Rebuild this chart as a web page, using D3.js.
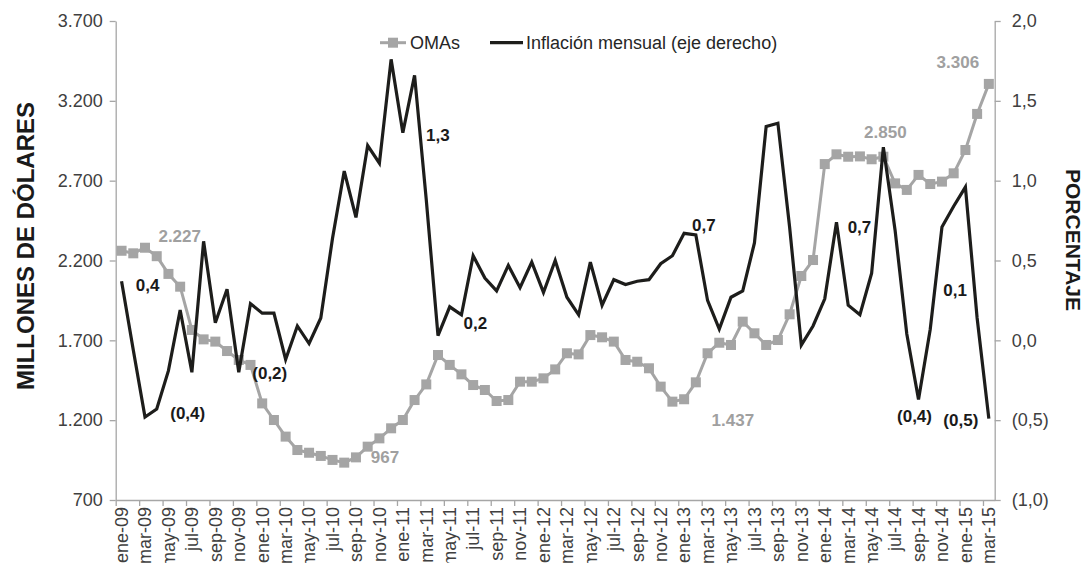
<!DOCTYPE html>
<html>
<head>
<meta charset="utf-8">
<script src="https://cdn.jsdelivr.net/npm/d3@7"></script>
<style>
  html, body { margin: 0; padding: 0; background: #fff; }
  svg { display: block; }
  text { font-family: "Liberation Sans", Arial, sans-serif; }
</style>
</head>
<body>
<svg id="chart" width="1087" height="563"></svg>
<script>
// Monthly categories, ene-09 .. mar-15
const months = ["ene","feb","mar","abr","may","jun","jul","ago","sep","oct","nov","dic"];
const categories = [];
for (let y = 9; y <= 15; y++) {
  for (let m = 0; m < 12; m++) {
    if (y === 15 && m > 2) break;
    categories.push(months[m] + "-" + String(y).padStart(2, "0"));
  }
}

// Open market operations, millions of dollars (left axis)
const omas = [
  2261, 2245, 2280, 2227, 2116, 2036, 1765, 1706, 1692, 1633, 1577, 1546,
  1305, 1201, 1097, 1013,  996,  976,  951,  934,  967, 1034, 1086, 1149,
  1201, 1326, 1424, 1608, 1546, 1487, 1420, 1389, 1320, 1326, 1441, 1441,
  1462, 1518, 1619, 1612, 1733, 1719, 1692, 1577, 1566, 1525, 1410, 1316,
  1331, 1437, 1619, 1685, 1671, 1817, 1744, 1671, 1702, 1863, 2103, 2203,
  2804, 2865, 2850, 2852, 2834, 2850, 2683, 2642, 2736, 2679, 2694, 2746,
  2892, 3118, 3306
];

// Monthly inflation, percent (right axis)
const inflacion = [
   0.37, -0.06, -0.48, -0.43, -0.19,  0.19, -0.20,  0.62,  0.11,  0.32, -0.20,  0.23,
   0.17,  0.17, -0.12,  0.09, -0.02,  0.14,  0.64,  1.06,  0.77,  1.22,  1.11,  1.76,
   1.30,  1.66,  0.88,  0.03,  0.21,  0.16,  0.53,  0.39,  0.31,  0.47,  0.33,  0.49,
   0.30,  0.50,  0.27,  0.16,  0.49,  0.22,  0.38,  0.35,  0.37,  0.38,  0.48,  0.53,
   0.67,  0.66,  0.25,  0.07,  0.27,  0.31,  0.61,  1.34,  1.36,  0.71, -0.03,  0.09,
   0.26,  0.74,  0.22,  0.16,  0.42,  1.21,  0.69,  0.04, -0.37,  0.07,  0.71,  0.84,
   0.96,  0.14, -0.49
];

const leftTicks = [700, 1200, 1700, 2200, 2700, 3200, 3700];
const rightTicks = [-1.0, -0.5, 0.0, 0.5, 1.0, 1.5, 2.0];

// Highlighted OMA values (index into categories)
const omaLabelIdx = [3, 20, 49, 65, 74];
// Highlighted inflation values
const inflLabelIdx = [0, 3, 10, 24, 29, 49, 61, 68, 73, 74];

// Label placement (offset from the point)
const omaLabelOffset = { 3: [23, -14], 20: [29, 6], 49: [37, 44], 65: [2, -19], 74: [-31, -16] };
const inflLabelOffset = {
  0: [26, 10], 3: [31, 10], 10: [31, 7], 24: [35, 8], 29: [14, 14],
  49: [8, -4], 61: [23, 11], 68: [-4, 23], 73: [-22, -22], 74: [-28, 7]
};

const locale = d3.formatLocale({ decimal: ",", thousands: ".", grouping: [3], currency: ["", ""] });
const fmtThousands = locale.format(",.0f");
const fmtOne = locale.format(".1f");
const fmtPct = v => (v < 0 ? "(" + fmtOne(-v) + ")" : fmtOne(v));

const svg = d3.select("#chart");
const plot = { left: 115.7, right: 994.7, top: 21, bottom: 500 };

const x = d3.scaleBand().domain(categories).range([plot.left, plot.right]).padding(0);
const xEdge = d3.scaleLinear().domain([0, categories.length]).range([plot.left, plot.right]);
const yL = d3.scaleLinear().domain([700, 3700]).range([plot.bottom, plot.top]);
const yR = d3.scaleLinear().domain([-1.0, 2.0]).range([plot.bottom, plot.top]);
const cx = c => x(c) + x.bandwidth() / 2;

const axisColor = "#a6a6a6";
const tickTextColor = "#404040";
const grey = "#a5a5a5";
const black = "#1d1d1b";

// Left axis
const gL = svg.append("g").attr("transform", `translate(${plot.left},0)`)
  .call(d3.axisLeft(yL).tickValues(leftTicks).tickFormat(fmtThousands).tickSize(6).tickSizeOuter(0).tickPadding(7));
// Right axis
const gR = svg.append("g").attr("transform", `translate(${plot.right},0)`)
  .call(d3.axisRight(yR).tickValues(rightTicks).tickFormat(fmtPct).tickSize(6).tickSizeOuter(0).tickPadding(11));
// Bottom axis: tick marks on category boundaries every two months
const gB = svg.append("g").attr("transform", `translate(0,${plot.bottom})`)
  .call(d3.axisBottom(xEdge).tickValues(d3.range(0, categories.length, 2)).tickFormat("").tickSize(6).tickSizeOuter(0));
// Bottom axis labels centred on every other month
const gBL = svg.append("g").attr("transform", `translate(0,${plot.bottom})`)
  .call(d3.axisBottom(x).tickValues(categories.filter((d, i) => i % 2 === 0)).tickSize(0).tickPadding(0));
gBL.select(".domain").remove();
gBL.selectAll("text")
  .attr("transform", "rotate(-90)")
  .attr("text-anchor", "end")
  .attr("x", -7).attr("y", 0).attr("dy", "0.35em");

[gL, gR, gB].forEach(g => {
  g.select(".domain").attr("stroke", axisColor).attr("stroke-width", 1.3);
  g.selectAll(".tick line").attr("stroke", axisColor).attr("stroke-width", 1.3);
});
[gL, gR, gBL].forEach(g => {
  g.selectAll("text").attr("fill", tickTextColor).style("font-size", "18px")
    .style("font-family", "'Liberation Sans', Arial, sans-serif");
});

// Axis titles
svg.append("text")
  .attr("transform", `translate(34,246) rotate(-90)`)
  .attr("text-anchor", "middle")
  .style("font-size", "24px").style("font-weight", "bold").attr("fill", "#1a1a1a")
  .text("MILLONES DE DÓLARES");
svg.append("text")
  .attr("transform", `translate(1066,240) rotate(90)`)
  .attr("text-anchor", "middle")
  .style("font-size", "21px").style("font-weight", "bold").attr("fill", "#1a1a1a")
  .text("PORCENTAJE");

// OMAs series
const lineL = d3.line().x((d, i) => cx(categories[i])).y(d => yL(d));
svg.append("path").datum(omas)
  .attr("d", lineL).attr("fill", "none").attr("stroke", grey).attr("stroke-width", 3)
  .attr("stroke-linejoin", "round");
const mk = 10;
svg.append("g").selectAll("rect").data(omas).join("rect")
  .attr("x", (d, i) => cx(categories[i]) - mk / 2)
  .attr("y", d => yL(d) - mk / 2)
  .attr("width", mk).attr("height", mk).attr("fill", grey);

// Inflation series
const lineR = d3.line().x((d, i) => cx(categories[i])).y(d => yR(d));
svg.append("path").datum(inflacion)
  .attr("d", lineR).attr("fill", "none").attr("stroke", black).attr("stroke-width", 3.2)
  .attr("stroke-linejoin", "miter");

// Value labels
svg.append("g").selectAll("text").data(omaLabelIdx).join("text")
  .attr("x", i => cx(categories[i]) + omaLabelOffset[i][0])
  .attr("y", i => yL(omas[i]) + omaLabelOffset[i][1])
  .attr("text-anchor", "middle")
  .style("font-size", "17px").style("font-weight", "bold").attr("fill", "#a0a0a0")
  .text(i => fmtThousands(omas[i]));
svg.append("g").selectAll("text").data(inflLabelIdx).join("text")
  .attr("x", i => cx(categories[i]) + inflLabelOffset[i][0])
  .attr("y", i => yR(inflacion[i]) + inflLabelOffset[i][1])
  .attr("text-anchor", "middle")
  .style("font-size", "17px").style("font-weight", "bold").attr("fill", "#1a1a1a")
  .text(i => fmtPct(+inflacion[i].toFixed(1)));

// Legend
const legY = 42.7;
const leg = svg.append("g");
leg.append("line").attr("x1", 380).attr("x2", 406).attr("y1", legY).attr("y2", legY)
  .attr("stroke", grey).attr("stroke-width", 3);
leg.append("rect").attr("x", 393 - mk / 2).attr("y", legY - mk / 2).attr("width", mk).attr("height", mk).attr("fill", grey);
leg.append("text").attr("x", 410).attr("y", legY).attr("dy", "0.35em")
  .style("font-size", "18px").attr("fill", "#262626").text("OMAs");
leg.append("line").attr("x1", 490).attr("x2", 523).attr("y1", legY).attr("y2", legY)
  .attr("stroke", black).attr("stroke-width", 3.2);
leg.append("text").attr("x", 526).attr("y", legY).attr("dy", "0.35em")
  .style("font-size", "18px").attr("fill", "#262626").text("Inflación mensual (eje derecho)");
</script>
</body>
</html>
